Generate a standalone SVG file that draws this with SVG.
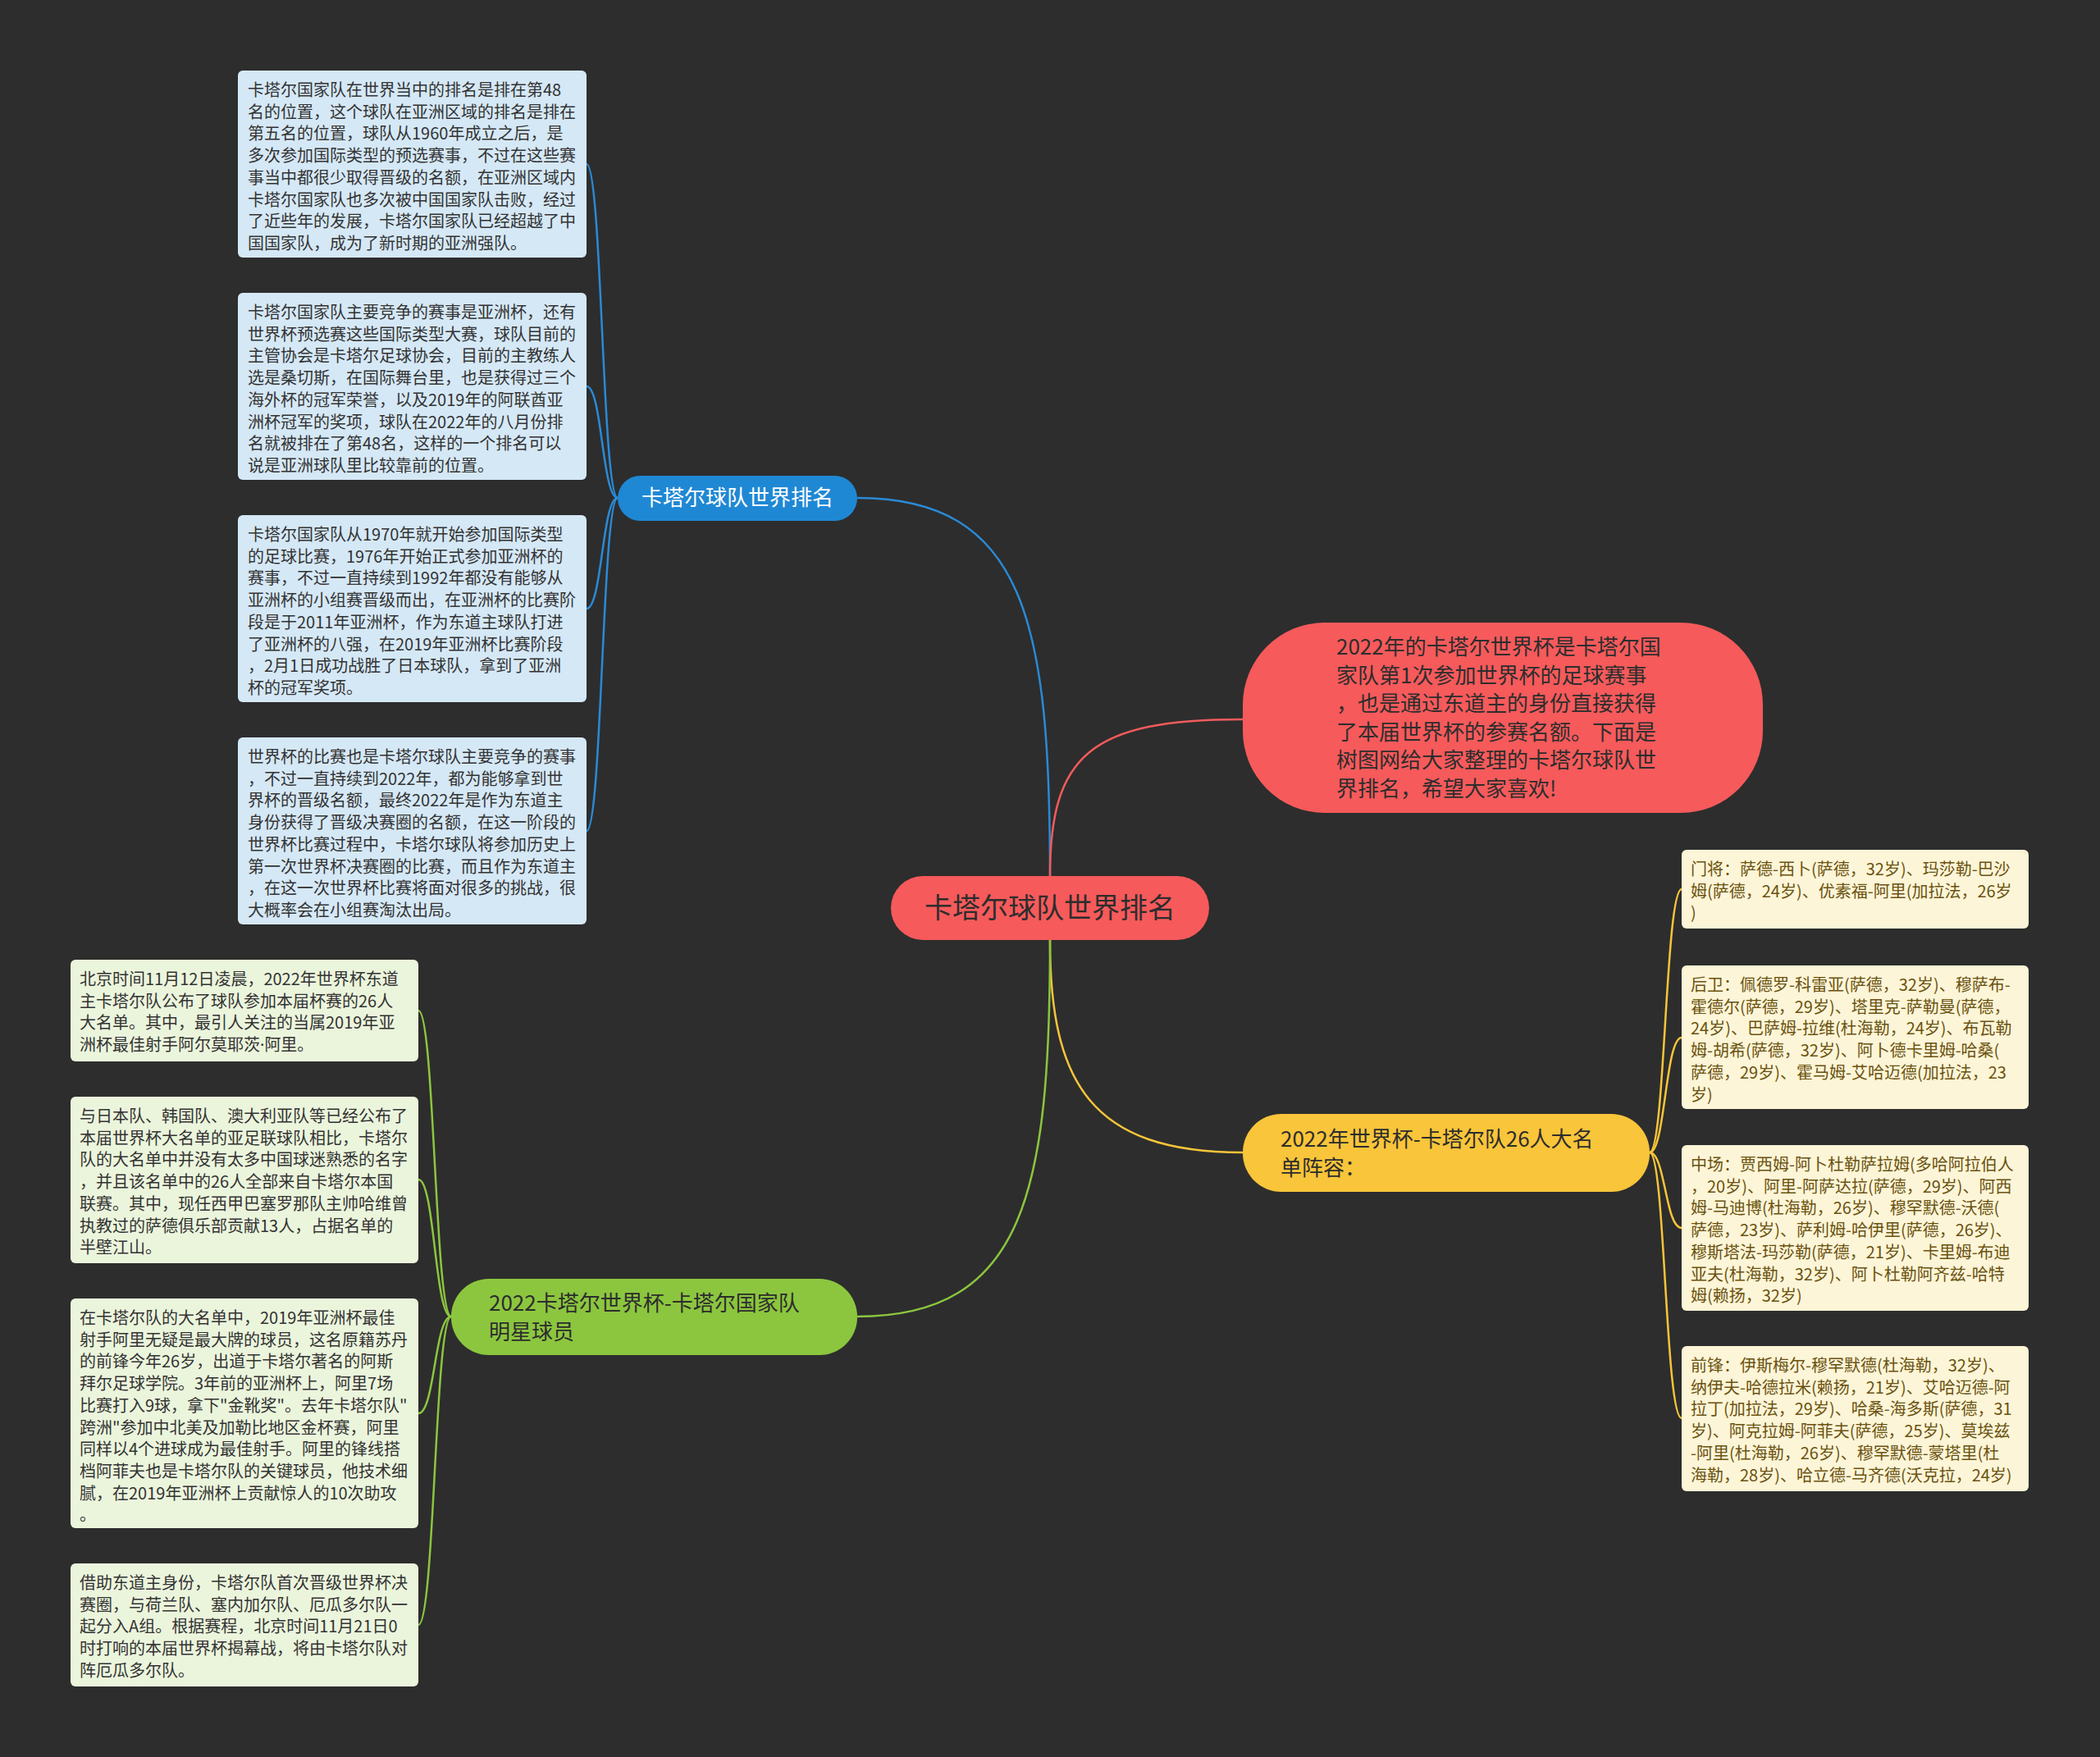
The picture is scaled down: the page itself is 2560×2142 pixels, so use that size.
<svg xmlns="http://www.w3.org/2000/svg" width="2560" height="2142" viewBox="0 0 2560 2142">
<style>
text{font-family:"Noto Sans CJK SC","Noto Sans",sans-serif;}
.bg{fill:#2d2d2d;}
.lnB{fill:none;stroke:#2a8ad6;stroke-width:2.5;}
.lnR{fill:none;stroke:#f25b5b;stroke-width:2.5;}
.lnY{fill:none;stroke:#f7c53a;stroke-width:2.5;}
.lnG{fill:none;stroke:#8cc63f;stroke-width:2.5;}
.bBox{fill:#d5e8f6;}
.gBox{fill:#ebf5dc;}
.yBox{fill:#fdf5d7;}
.bTxt,.gTxt{font-size:20px;fill:#333333;}
.yTxt{font-size:20px;fill:#6a5210;}
.main{font-size:26px;fill:#2d2d2d;}
.dot{font-family:"Noto Sans","DejaVu Sans",sans-serif;}
</style>
<rect class="bg" x="0" y="0" width="2560" height="2142"/>

<g id="connectors">
  <path class="lnB" d="M1280,1068 C1280,760 1250,607 1045,607"/>
  <path class="lnR" d="M1280,1068 C1280,920 1330,877 1515,877"/>
  <path class="lnY" d="M1280,1146 C1280,1320 1330,1405 1515,1405"/>
  <path class="lnG" d="M1280,1146 C1280,1450 1250,1605 1045,1605"/>
  <path class="lnB" d="M753,607 C734,607 734,200 715,200"/>
  <path class="lnB" d="M753,607 C734,607 734,471 715,471"/>
  <path class="lnB" d="M753,607 C734,607 734,742 715,742"/>
  <path class="lnB" d="M753,607 C734,607 734,1013 715,1013"/>
  <path class="lnG" d="M550,1605 C530,1605 530,1232 510,1232"/>
  <path class="lnG" d="M550,1605 C530,1605 530,1438 510,1438"/>
  <path class="lnG" d="M550,1605 C530,1605 530,1723 510,1723"/>
  <path class="lnG" d="M550,1605 C530,1605 530,1981 510,1981"/>
  <path class="lnY" d="M2011,1405 C2030,1405 2030,1084 2050,1084"/>
  <path class="lnY" d="M2011,1405 C2030,1405 2030,1265 2050,1265"/>
  <path class="lnY" d="M2011,1405 C2030,1405 2030,1497 2050,1497"/>
  <path class="lnY" d="M2011,1405 C2030,1405 2030,1729 2050,1729"/>
</g>

<g id="central">
  <rect x="1086" y="1068" width="388" height="78" rx="39" fill="#f65a5b"/>
  <text x="1280" y="1119" text-anchor="middle" font-size="34" fill="#2d2d2d">卡塔尔球队世界排名</text>
</g>

<g id="n-rank">
  <rect x="753" y="580" width="292" height="55" rx="27.5" fill="#1f88d4"/>
  <text x="899" y="616" text-anchor="middle" font-size="26" fill="#ffffff">卡塔尔球队世界排名</text>
</g>

<g id="n-intro">
  <rect x="1515" y="759" width="634" height="232" rx="100" fill="#f65a5b"/>
  <text class="main" font-size="25">
    <tspan x="1629" y="798">2022年的卡塔尔世界杯是卡塔尔国</tspan>
    <tspan x="1629" y="832.6">家队第1次参加世界杯的足球赛事</tspan>
    <tspan x="1629" y="867.2">，也是通过东道主的身份直接获得</tspan>
    <tspan x="1629" y="901.8">了本届世界杯的参赛名额。下面是</tspan>
    <tspan x="1629" y="936.4">树图网给大家整理的卡塔尔球队世</tspan>
    <tspan x="1629" y="971">界排名，希望大家喜欢!</tspan>
  </text>
</g>

<g id="n-squad">
  <rect x="1515" y="1358" width="496" height="95" rx="47" fill="#f9c53a"/>
  <text class="main">
    <tspan x="1561" y="1398">2022年世界杯-卡塔尔队26人大名</tspan>
    <tspan x="1561" y="1433">单阵容：</tspan>
  </text>
</g>

<g id="n-star">
  <rect x="550" y="1559" width="495" height="93" rx="46" fill="#8cc63f"/>
  <text class="main">
    <tspan x="596" y="1598">2022卡塔尔世界杯-卡塔尔国家队</tspan>
    <tspan x="596" y="1633">明星球员</tspan>
  </text>
</g>

<g id="b1">
  <rect class="bBox" x="290" y="86" width="425" height="228" rx="6"/>
  <text class="bTxt">
    <tspan x="302" y="117">卡塔尔国家队在世界当中的排名是排在第48</tspan>
    <tspan x="302" dy="26.7">名的位置，这个球队在亚洲区域的排名是排在</tspan>
    <tspan x="302" dy="26.7">第五名的位置，球队从1960年成立之后，是</tspan>
    <tspan x="302" dy="26.7">多次参加国际类型的预选赛事，不过在这些赛</tspan>
    <tspan x="302" dy="26.7">事当中都很少取得晋级的名额，在亚洲区域内</tspan>
    <tspan x="302" dy="26.7">卡塔尔国家队也多次被中国国家队击败，经过</tspan>
    <tspan x="302" dy="26.7">了近些年的发展，卡塔尔国家队已经超越了中</tspan>
    <tspan x="302" dy="26.7">国国家队，成为了新时期的亚洲强队。</tspan>
  </text>
</g>

<g id="b2">
  <rect class="bBox" x="290" y="357" width="425" height="228" rx="6"/>
  <text class="bTxt">
    <tspan x="302" y="388">卡塔尔国家队主要竞争的赛事是亚洲杯，还有</tspan>
    <tspan x="302" dy="26.7">世界杯预选赛这些国际类型大赛，球队目前的</tspan>
    <tspan x="302" dy="26.7">主管协会是卡塔尔足球协会，目前的主教练人</tspan>
    <tspan x="302" dy="26.7">选是桑切斯，在国际舞台里，也是获得过三个</tspan>
    <tspan x="302" dy="26.7">海外杯的冠军荣誉，以及2019年的阿联酋亚</tspan>
    <tspan x="302" dy="26.7">洲杯冠军的奖项，球队在2022年的八月份排</tspan>
    <tspan x="302" dy="26.7">名就被排在了第48名，这样的一个排名可以</tspan>
    <tspan x="302" dy="26.7">说是亚洲球队里比较靠前的位置。</tspan>
  </text>
</g>

<g id="b3">
  <rect class="bBox" x="290" y="628" width="425" height="228" rx="6"/>
  <text class="bTxt">
    <tspan x="302" y="659">卡塔尔国家队从1970年就开始参加国际类型</tspan>
    <tspan x="302" dy="26.7">的足球比赛，1976年开始正式参加亚洲杯的</tspan>
    <tspan x="302" dy="26.7">赛事，不过一直持续到1992年都没有能够从</tspan>
    <tspan x="302" dy="26.7">亚洲杯的小组赛晋级而出，在亚洲杯的比赛阶</tspan>
    <tspan x="302" dy="26.7">段是于2011年亚洲杯，作为东道主球队打进</tspan>
    <tspan x="302" dy="26.7">了亚洲杯的八强，在2019年亚洲杯比赛阶段</tspan>
    <tspan x="302" dy="26.7">，2月1日成功战胜了日本球队，拿到了亚洲</tspan>
    <tspan x="302" dy="26.7">杯的冠军奖项。</tspan>
  </text>
</g>

<g id="b4">
  <rect class="bBox" x="290" y="899" width="425" height="228" rx="6"/>
  <text class="bTxt">
    <tspan x="302" y="930">世界杯的比赛也是卡塔尔球队主要竞争的赛事</tspan>
    <tspan x="302" dy="26.7">，不过一直持续到2022年，都为能够拿到世</tspan>
    <tspan x="302" dy="26.7">界杯的晋级名额，最终2022年是作为东道主</tspan>
    <tspan x="302" dy="26.7">身份获得了晋级决赛圈的名额，在这一阶段的</tspan>
    <tspan x="302" dy="26.7">世界杯比赛过程中，卡塔尔球队将参加历史上</tspan>
    <tspan x="302" dy="26.7">第一次世界杯决赛圈的比赛，而且作为东道主</tspan>
    <tspan x="302" dy="26.7">，在这一次世界杯比赛将面对很多的挑战，很</tspan>
    <tspan x="302" dy="26.7">大概率会在小组赛淘汰出局。</tspan>
  </text>
</g>

<g id="g1">
  <rect class="gBox" x="86" y="1170" width="424" height="124" rx="6"/>
  <text class="gTxt">
    <tspan x="97" y="1201">北京时间11月12日凌晨，2022年世界杯东道</tspan>
    <tspan x="97" dy="26.7">主卡塔尔队公布了球队参加本届杯赛的26人</tspan>
    <tspan x="97" dy="26.7">大名单。其中，最引人关注的当属2019年亚</tspan>
    <tspan x="97" dy="26.7">洲杯最佳射手阿尔莫耶茨<tspan class="dot">·</tspan>阿里。</tspan>
  </text>
</g>

<g id="g2">
  <rect class="gBox" x="86" y="1337" width="424" height="203" rx="6"/>
  <text class="gTxt">
    <tspan x="97" y="1368">与日本队、韩国队、澳大利亚队等已经公布了</tspan>
    <tspan x="97" dy="26.7">本届世界杯大名单的亚足联球队相比，卡塔尔</tspan>
    <tspan x="97" dy="26.7">队的大名单中并没有太多中国球迷熟悉的名字</tspan>
    <tspan x="97" dy="26.7">，并且该名单中的26人全部来自卡塔尔本国</tspan>
    <tspan x="97" dy="26.7">联赛。其中，现任西甲巴塞罗那队主帅哈维曾</tspan>
    <tspan x="97" dy="26.7">执教过的萨德俱乐部贡献13人，占据名单的</tspan>
    <tspan x="97" dy="26.7">半壁江山。</tspan>
  </text>
</g>

<g id="g3">
  <rect class="gBox" x="86" y="1583" width="424" height="280" rx="6"/>
  <text class="gTxt">
    <tspan x="97" y="1614">在卡塔尔队的大名单中，2019年亚洲杯最佳</tspan>
    <tspan x="97" dy="26.7">射手阿里无疑是最大牌的球员，这名原籍苏丹</tspan>
    <tspan x="97" dy="26.7">的前锋今年26岁，出道于卡塔尔著名的阿斯</tspan>
    <tspan x="97" dy="26.7">拜尔足球学院。3年前的亚洲杯上，阿里7场</tspan>
    <tspan x="97" dy="26.7">比赛打入9球，拿下"金靴奖"。去年卡塔尔队"</tspan>
    <tspan x="97" dy="26.7">跨洲"参加中北美及加勒比地区金杯赛，阿里</tspan>
    <tspan x="97" dy="26.7">同样以4个进球成为最佳射手。阿里的锋线搭</tspan>
    <tspan x="97" dy="26.7">档阿菲夫也是卡塔尔队的关键球员，他技术细</tspan>
    <tspan x="97" dy="26.7">腻，在2019年亚洲杯上贡献惊人的10次助攻</tspan>
    <tspan x="97" dy="26.7">。</tspan>
  </text>
</g>

<g id="g4">
  <rect class="gBox" x="86" y="1906" width="424" height="150" rx="6"/>
  <text class="gTxt">
    <tspan x="97" y="1937">借助东道主身份，卡塔尔队首次晋级世界杯决</tspan>
    <tspan x="97" dy="26.7">赛圈，与荷兰队、塞内加尔队、厄瓜多尔队一</tspan>
    <tspan x="97" dy="26.7">起分入A组。根据赛程，北京时间11月21日0</tspan>
    <tspan x="97" dy="26.7">时打响的本届世界杯揭幕战，将由卡塔尔队对</tspan>
    <tspan x="97" dy="26.7">阵厄瓜多尔队。</tspan>
  </text>
</g>

<g id="y1">
  <rect class="yBox" x="2050" y="1036" width="423" height="96" rx="6"/>
  <text class="yTxt">
    <tspan x="2061" y="1067">门将：萨德-西卜(萨德，32岁)、玛莎勒-巴沙</tspan>
    <tspan x="2061" dy="26.7">姆(萨德，24岁)、优素福-阿里(加拉法，26岁</tspan>
    <tspan x="2061" dy="26.7">)</tspan>
  </text>
</g>

<g id="y2">
  <rect class="yBox" x="2050" y="1177" width="423" height="175" rx="6"/>
  <text class="yTxt">
    <tspan x="2061" y="1208">后卫：佩德罗-科雷亚(萨德，32岁)、穆萨布-</tspan>
    <tspan x="2061" dy="26.7">霍德尔(萨德，29岁)、塔里克-萨勒曼(萨德，</tspan>
    <tspan x="2061" dy="26.7">24岁)、巴萨姆-拉维(杜海勒，24岁)、布瓦勒</tspan>
    <tspan x="2061" dy="26.7">姆-胡希(萨德，32岁)、阿卜德卡里姆-哈桑(</tspan>
    <tspan x="2061" dy="26.7">萨德，29岁)、霍马姆-艾哈迈德(加拉法，23</tspan>
    <tspan x="2061" dy="26.7">岁)</tspan>
  </text>
</g>

<g id="y3">
  <rect class="yBox" x="2050" y="1396" width="423" height="202" rx="6"/>
  <text class="yTxt">
    <tspan x="2061" y="1427">中场：贾西姆-阿卜杜勒萨拉姆(多哈阿拉伯人</tspan>
    <tspan x="2061" dy="26.7">，20岁)、阿里-阿萨达拉(萨德，29岁)、阿西</tspan>
    <tspan x="2061" dy="26.7">姆-马迪博(杜海勒，26岁)、穆罕默德-沃德(</tspan>
    <tspan x="2061" dy="26.7">萨德，23岁)、萨利姆-哈伊里(萨德，26岁)、</tspan>
    <tspan x="2061" dy="26.7">穆斯塔法-玛莎勒(萨德，21岁)、卡里姆-布迪</tspan>
    <tspan x="2061" dy="26.7">亚夫(杜海勒，32岁)、阿卜杜勒阿齐兹-哈特</tspan>
    <tspan x="2061" dy="26.7">姆(赖扬，32岁)</tspan>
  </text>
</g>

<g id="y4">
  <rect class="yBox" x="2050" y="1641" width="423" height="177" rx="6"/>
  <text class="yTxt">
    <tspan x="2061" y="1672">前锋：伊斯梅尔-穆罕默德(杜海勒，32岁)、</tspan>
    <tspan x="2061" dy="26.7">纳伊夫-哈德拉米(赖扬，21岁)、艾哈迈德-阿</tspan>
    <tspan x="2061" dy="26.7">拉丁(加拉法，29岁)、哈桑-海多斯(萨德，31</tspan>
    <tspan x="2061" dy="26.7">岁)、阿克拉姆-阿菲夫(萨德，25岁)、莫埃兹</tspan>
    <tspan x="2061" dy="26.7">-阿里(杜海勒，26岁)、穆罕默德-蒙塔里(杜</tspan>
    <tspan x="2061" dy="26.7">海勒，28岁)、哈立德-马齐德(沃克拉，24岁)</tspan>
  </text>
</g>
</svg>
